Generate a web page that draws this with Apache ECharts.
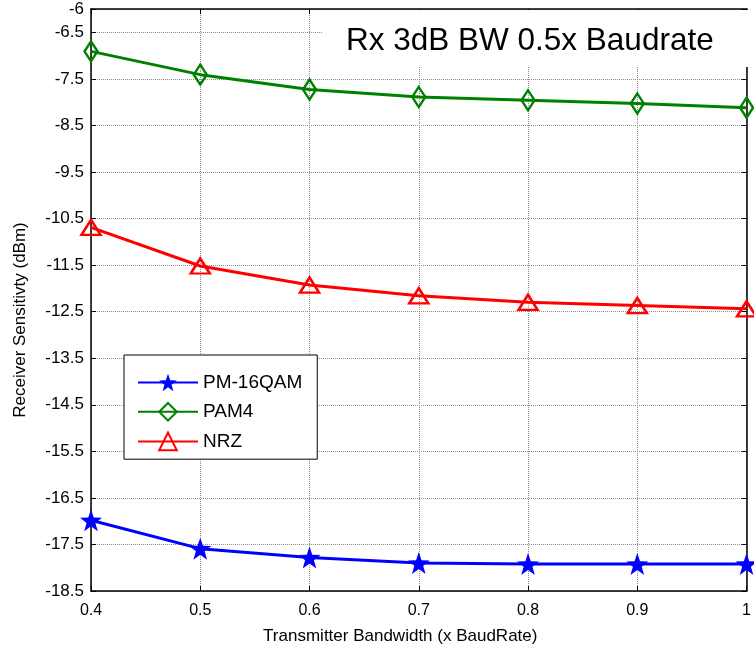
<!DOCTYPE html>
<html>
<head>
<meta charset="utf-8">
<script src="https://cdn.jsdelivr.net/npm/echarts@6/dist/echarts.min.js"></script>
<style>
  html, body { margin: 0; padding: 0; background: #fff; }
  #chart { width: 754px; height: 653px; }
</style>
</head>
<body>
<div id="chart"></div>
<script>
// data
const bandwidth = [0.4, 0.5, 0.6, 0.7, 0.8, 0.9, 1.0];
const pm16qam = [-16.98, -17.59, -17.78, -17.90, -17.92, -17.92, -17.92];
const pam4 = [-6.91, -7.41, -7.73, -7.89, -7.96, -8.03, -8.12];
const nrz = [-10.69, -11.52, -11.93, -12.16, -12.30, -12.37, -12.44];
const yTicks = [-18.5, -17.5, -16.5, -15.5, -14.5, -13.5, -12.5, -11.5, -10.5, -9.5, -8.5, -7.5, -6.5, -6];

const starPath = 'path://M50 0L61.76 33.82L97.55 34.55L69.02 56.18L79.39 90.45L50 70L20.61 90.45L30.98 56.18L2.45 34.55L38.24 33.82Z';
const font = 'Arial, "Liberation Sans", sans-serif';

const pairs = ys => bandwidth.map((x, i) => [x, ys[i]]);

const chart = echarts.init(document.getElementById('chart'));

const gridLine = { show: true, lineStyle: { color: '#8c8c8c', type: 'dotted', width: 1 } };

chart.setOption({
  animation: false,
  backgroundColor: '#fff',
  grid: { left: 91, right: 6, top: 9, bottom: 62 },
  xAxis: [{
    type: 'value',
    min: 0.4, max: 1, interval: 0.1,
    name: 'Transmitter Bandwidth (x BaudRate)',
    nameLocation: 'middle',
    nameGap: 37,
    nameTextStyle: { fontFamily: font, fontSize: 17, color: '#000', padding: [0, 37, 0, 0] },
    axisLine: { lineStyle: { color: '#000', width: 1.5 } },
    axisTick: { inside: true, length: 5, lineStyle: { color: '#000' } },
    axisLabel: { fontFamily: font, fontSize: 16, color: '#000', margin: 12 },
    splitLine: gridLine
  }, {
    type: 'value', position: 'top',
    min: 0.4, max: 1, interval: 0.1,
    axisLine: { show: true, lineStyle: { color: '#000', width: 1.5 } },
    axisTick: { inside: true, length: 5, lineStyle: { color: '#000' } },
    axisLabel: { show: false },
    splitLine: { show: false }
  }],
  yAxis: [{
    type: 'value',
    min: -18.5, max: -6,
    name: 'Receiver Sensitivty (dBm)',
    nameLocation: 'middle',
    nameGap: 62,
    nameRotate: 90,
    nameTextStyle: { fontFamily: font, fontSize: 17, color: '#000', padding: [0, 40, 0, 0] },
    axisLine: { show: true, lineStyle: { color: '#000', width: 1.5 } },
    axisTick: { show: true, inside: true, length: 5, customValues: yTicks, lineStyle: { color: '#000' } },
    axisLabel: { fontFamily: font, fontSize: 17, color: '#000', margin: 7, customValues: yTicks },
    splitLine: gridLine
  }, {
    type: 'value', position: 'right',
    min: -18.5, max: -6,
    axisLine: { show: true, lineStyle: { color: '#000', width: 1.5 } },
    axisTick: { show: true, inside: true, length: 5, customValues: yTicks, lineStyle: { color: '#000' } },
    axisLabel: { show: false },
    splitLine: { show: false }
  }],
  legend: {
    orient: 'vertical',
    left: 124, top: 355,
    padding: [18, 15, 8, 13],
    itemGap: 10,
    itemWidth: 60, itemHeight: 22,
    backgroundColor: '#fff',
    borderColor: '#000', borderWidth: 1,
    textStyle: { fontFamily: font, fontSize: 19, color: '#000' },
    data: ['PM-16QAM', 'PAM4', 'NRZ']
  },
  graphic: [{
    type: 'rect', z: 100,
    shape: { x: 323, y: 10, width: 428, height: 57 },
    style: { fill: '#fff' }
  }, {
    type: 'text', z: 101,
    x: 346, y: 41,
    style: { text: 'Rx 3dB BW 0.5x Baudrate', font: '31.5px Arial, "Liberation Sans", sans-serif', fill: '#000', verticalAlign: 'middle' }
  }],
  series: [{
    name: 'PM-16QAM', type: 'line',
    data: pairs(pm16qam),
    symbol: starPath, symbolSize: 22,
    lineStyle: { color: '#0000ff', width: 3 },
    itemStyle: { color: '#0000ff' }
  }, {
    name: 'PAM4', type: 'line',
    data: pairs(pam4),
    symbol: 'diamond', symbolSize: [13, 20],
    lineStyle: { color: '#008000', width: 3 },
    itemStyle: { color: 'rgba(0,0,0,0)', borderColor: '#008000', borderWidth: 2.5 }
  }, {
    name: 'NRZ', type: 'line',
    data: pairs(nrz),
    symbol: 'triangle', symbolSize: [19, 15],
    lineStyle: { color: '#ff0000', width: 3 },
    itemStyle: { color: 'rgba(0,0,0,0)', borderColor: '#ff0000', borderWidth: 2.5 }
  }]
});
</script>
</body>
</html>
